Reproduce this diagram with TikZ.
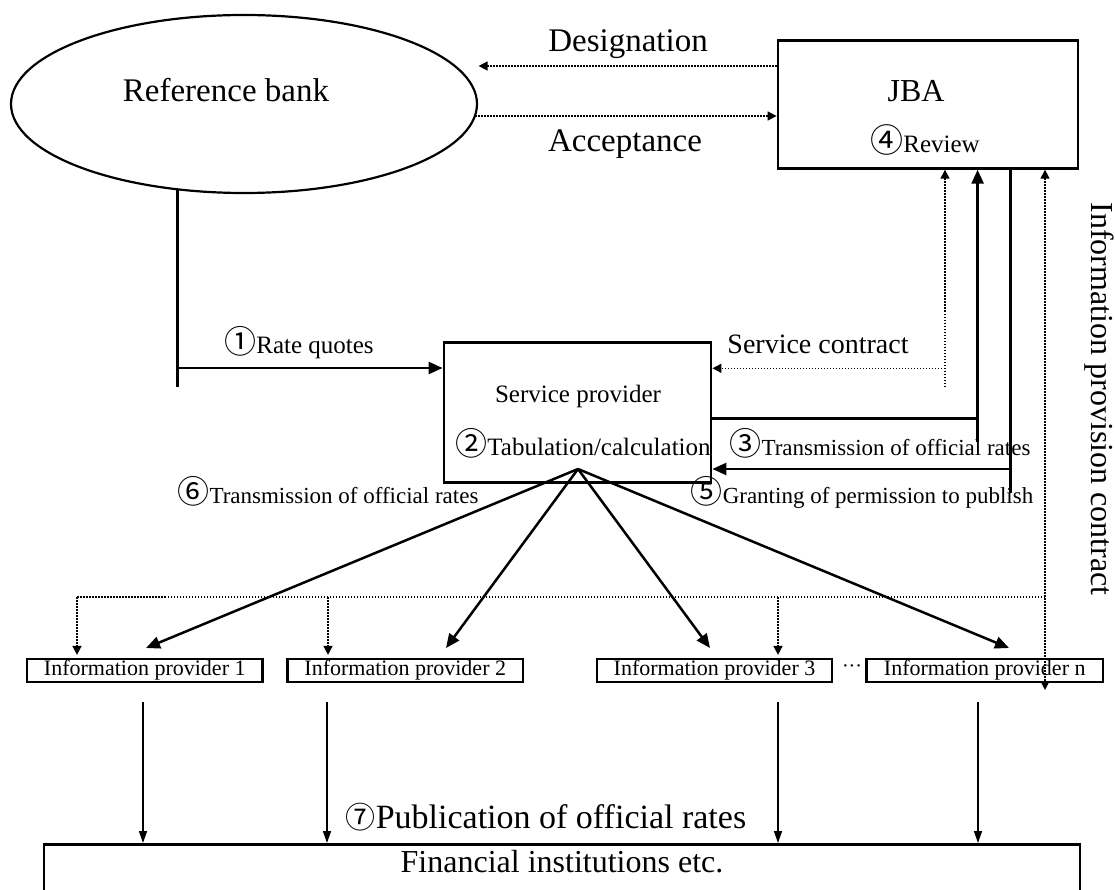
\documentclass[tikz,border=0pt]{standalone}
\usepackage{fontspec}
\setmainfont{Liberation Serif}
\newfontfamily\cjk{Noto Sans CJK JP}
\usetikzlibrary{shapes.geometric,arrows.meta}
\newcommand{\fsz}[1]{\fontsize{#1}{#1}\selectfont}
\newcommand{\cn}[2]{{\cjk\fontsize{#1}{#1}\selectfont #2}}
\tikzset{
 lbl/.style={anchor=base, inner sep=0pt},
 bigbox/.style={draw, line width=2.8pt, inner sep=0pt},
 pbox/.style={draw, line width=2.2pt, inner sep=0pt, minimum height=23pt, font=\fsz{22}},
 sarrow/.style={line width=2.5pt, -{Triangle[length=14pt,width=12pt]}},
 sthick/.style={line width=2.5pt},
 darrow/.style={line width=1.5pt, dash pattern=on 1.5pt off 1.5pt, -{Triangle[length=9pt,width=9pt]}},
 dboth/.style={line width=1.5pt, dash pattern=on 1.5pt off 1.5pt, {Triangle[length=9pt,width=9pt]}-{Triangle[length=9pt,width=9pt]}},
 dline/.style={line width=1.5pt, dash pattern=on 1.5pt off 1.5pt},
 tarrow/.style={line width=1.5pt, -{Triangle[length=12pt,width=8pt]}},
}
\begin{document}
\begin{tikzpicture}[x=1pt,y=-1pt]
\useasboundingbox (0,0) rectangle (1115,890);
% main shapes
\node[ellipse, draw, line width=2.2pt, inner sep=0pt, minimum width=466pt, minimum height=178pt] (rb) at (244,104) {};
\node[lbl, font=\fsz{33}] (rbt) at (226,102) {Reference bank};
\node[bigbox, minimum width=300pt, minimum height=127.6pt] (jba) at (928,104.5) {};
\node[lbl, font=\fsz{32}] (jbat) at (916,102) {JBA};
\node[lbl, font=\fsz{25}] (rev) at (925,153) {\cn{33}{④}Review};
\node[bigbox, minimum width=267pt, minimum height=140pt] (sp) at (577.5,412.7) {};
\node[lbl, font=\fsz{25}] (spt) at (578,402) {Service provider};
\node[lbl, font=\fsz{25}] (tab) at (583,455) {\cn{32}{②}Tabulation/calculation};
% top labels
\node[lbl, font=\fsz{33}] (des) at (628,52) {Designation};
\node[lbl, font=\fsz{33}] (acc) at (625,152) {Acceptance};
\node[anchor=base, font=\fsz{32}, rotate=-90, inner sep=0pt] (ipc) at (1091,399) {Information provision contract};
% middle labels
\node[lbl, font=\fsz{25}] (rql) at (299,353) {\cn{32}{①}Rate quotes};
\node[lbl, font=\fsz{28}] (scl) at (818,353) {Service contract};
\node[lbl, font=\fsz{23}] (l3) at (880,455) {\cn{32}{③}Transmission of official rates};
\node[lbl, font=\fsz{23}] (l5) at (862,503) {\cn{32}{⑤}Granting of permission to publish};
\node[lbl, font=\fsz{23}] (l6) at (328,503) {\cn{32}{⑥}Transmission of official rates};
% providers
\node[pbox, minimum width=235.5pt] (p1) at (144.75,670.5) {Information provider 1};
\node[pbox, minimum width=235.5pt] (p2) at (405.25,670.5) {Information provider 2};
\node[pbox, minimum width=235pt] (p3) at (714.5,670.5) {Information provider 3};
\node[pbox, minimum width=236.5pt] (pn) at (984.75,670.5) {Information provider n};
\node[font=\fsz{20}, inner sep=0pt] (dots) at (852,669) {···};
% bottom
\node[lbl, font=\fsz{34}] (pub) at (546,828) {\cn{30}{⑦}Publication of official rates};
\node[draw, line width=2.6pt, inner sep=0pt, minimum width=1036pt, minimum height=120pt, anchor=north] (fin) at (562,843) {};
\node[lbl, font=\fsz{32}] (fint) at (562,872) {Financial institutions etc.};
% coordinates
\coordinate (dtip) at (478.6,66);
\coordinate (acc0) at (475,116);
\coordinate (rq0) at (177.7,189.5);
\coordinate (rq1) at (177.7,387);
\coordinate (yRQ) at (0,368);
\coordinate (sc0) at (945,387);
\coordinate (ySC) at (0,368.3);
\coordinate (t3) at (977.6,442);
\coordinate (y3) at (0,418.3);
\coordinate (t5) at (1010.7,493);
\coordinate (y5) at (0,469);
\coordinate (ip) at (1045,690);
\coordinate (h1) at (77,597);
\coordinate (h2) at (328,597);
\coordinate (h3) at (778,597);
\coordinate (apex) at (578,469);
\coordinate (a1) at (146,648);
\coordinate (a2) at (446,648);
\coordinate (a3) at (710,648);
\coordinate (a4) at (1009,648);
\coordinate (b1) at (143,702);
\coordinate (b2) at (327,702);
\coordinate (b3) at (778,702);
\coordinate (b4) at (978,702);
% top connectors
\draw[darrow] (jba.west |- dtip) -- (dtip);
\draw[darrow] (acc0) -- (jba.west |- acc0);
% rate quotes
\draw[sthick] (rq0) -- (rq1);
\draw[sarrow] (rq0 |- yRQ) -- (sp.west |- yRQ);
% service contract
\draw[darrow] (sc0) -- (jba.south -| sc0);
\draw[darrow] (sc0 |- ySC) -- (sp.east |- ySC);
% (3)
\draw[sarrow] (t3) -- (jba.south -| t3);
\draw[sthick] (sp.east |- y3) -- (t3 |- y3);
% (5)
\draw[sthick] (jba.south -| t5) -- (t5);
\draw[sarrow] (t5 |- y5) -- (sp.east |- y5);
% information provision contract
\draw[dboth] (jba.south -| ip) -- (ip);
\draw[dline] (ip |- h1) -- (h1);
\draw[darrow, shorten >=3pt] (h1) -- (p1.north -| h1);
\draw[darrow, shorten >=3pt] (h2) -- (p2.north -| h2);
\draw[darrow, shorten >=3pt] (h3) -- (p3.north -| h3);
% (6) distribution
\draw[sarrow] (apex) -- (a1);
\draw[sarrow] (apex) -- (a2);
\draw[sarrow] (apex) -- (a3);
\draw[sarrow] (apex) -- (a4);
% (7) publication
\draw[tarrow] (b1) -- (fin.north -| b1);
\draw[tarrow] (b2) -- (fin.north -| b2);
\draw[tarrow] (b3) -- (fin.north -| b3);
\draw[tarrow] (b4) -- (fin.north -| b4);
\end{tikzpicture}
\end{document}
